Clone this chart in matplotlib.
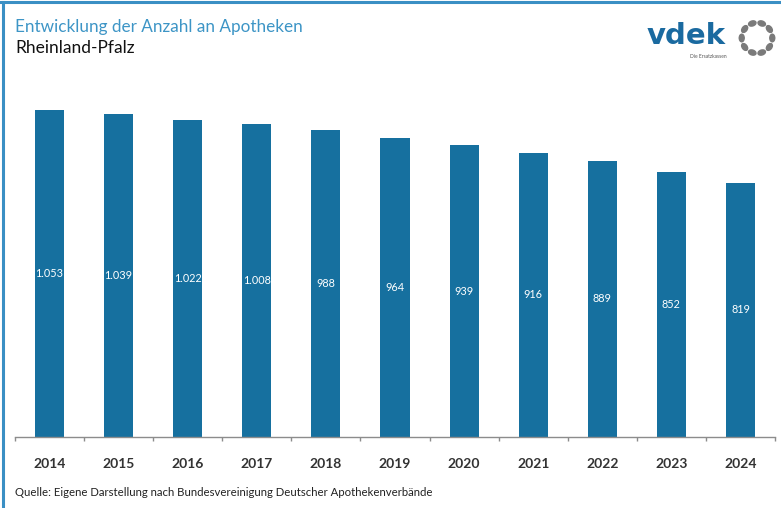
import numpy as np
import matplotlib
matplotlib.use("Agg")
import matplotlib.pyplot as plt
from matplotlib.patches import Ellipse

years = ["2014", "2015", "2016", "2017", "2018", "2019", "2020", "2021", "2022", "2023", "2024"]
pharmacies = [1053, 1039, 1022, 1008, 988, 964, 939, 916, 889, 852, 819]
value_labels = ["1.053", "1.039", "1.022", "1.008", "988", "964", "939", "916", "889", "852", "819"]

title = "Entwicklung der Anzahl an Apotheken"
subtitle = "Rheinland-Pfalz"
source = "Quelle: Eigene Darstellung nach Bundesvereinigung Deutscher Apothekenverbände"

BAR_COLOR = "#16709f"
TITLE_COLOR = "#3d95c6"
FRAME_COLOR = "#3a8fc4"
TEXT_COLOR = "#333333"

plt.rcParams["font.family"] = ["Lato", "DejaVu Sans"]

W, H = 781, 508
fig = plt.figure(figsize=(W / 100, H / 100), dpi=100)
fig.patch.set_facecolor("white")


def fx(px):
    return px / W


def fy(py):
    return 1 - py / H


# axes: x from 15 to 775 px, baseline at 437 px, ylim top at ~95 px
ax = fig.add_axes([fx(15), fy(437), fx(775 - 15), fy(95.4) - fy(437)])
x = np.arange(len(years))
ax.bar(x, pharmacies, width=0.42, color=BAR_COLOR, zorder=2)
ax.set_xlim(-0.5, len(years) - 0.5)
ax.set_ylim(0, 1100)

for xi, v, lab in zip(x, pharmacies, value_labels):
    ax.text(xi, v / 2, lab, ha="center", va="center", color="white", fontsize=7.8, zorder=3)

for side in ["top", "right", "left"]:
    ax.spines[side].set_visible(False)
ax.spines["bottom"].set_color("#8c8c8c")
ax.spines["bottom"].set_linewidth(1.0)
ax.set_yticks([])
ax.set_xticks(x)
ax.set_xticklabels(years, fontsize=10, fontweight="bold", color=TEXT_COLOR)
ax.tick_params(axis="x", which="major", length=0, pad=15)
ax.set_xticks(np.arange(-0.5, len(years), 1.0), minor=True)
ax.tick_params(axis="x", which="minor", length=3, color="#8c8c8c", width=1.0)
ax.set_facecolor("none")

# frame lines (top and left)
fig.add_artist(plt.Line2D([0, 1], [fy(2), fy(2)], color=FRAME_COLOR, lw=2.2, transform=fig.transFigure))
fig.add_artist(plt.Line2D([fx(3), fx(3)], [0, fy(2)], color=FRAME_COLOR, lw=2.2, transform=fig.transFigure))

# titles
fig.text(fx(15), fy(27), title, fontsize=12.3, color=TITLE_COLOR, va="center", ha="left")
fig.text(fx(15), fy(48), subtitle, fontsize=12.5, color="#111111", va="center", ha="left")
fig.text(fx(15), fy(493), source, fontsize=8.2, color="#222222", va="center", ha="left")

# logo
fig.text(fx(647), fy(36), "vdek", fontsize=21, fontweight="bold", color="#1a6aa0",
         va="center", ha="left", family=["DejaVu Sans"])
fig.text(fx(727), fy(57), "Die Ersatzkassen", fontsize=3.5, color="#555555", va="center", ha="right")
lax = fig.add_axes([fx(736), fy(59), fx(42), 42 / H])
lax.set_xlim(-1.1, 1.1)
lax.set_ylim(-1.1, 1.1)
lax.axis("off")
for k in range(10):
    deg = 90 - k * 36 + 18
    a = np.deg2rad(deg)
    lax.add_patch(Ellipse((0.8 * np.cos(a), 0.8 * np.sin(a)), width=0.26, height=0.4,
                          angle=deg, color="#7a7a7a"))

fig.savefig("out.png", dpi=100)
